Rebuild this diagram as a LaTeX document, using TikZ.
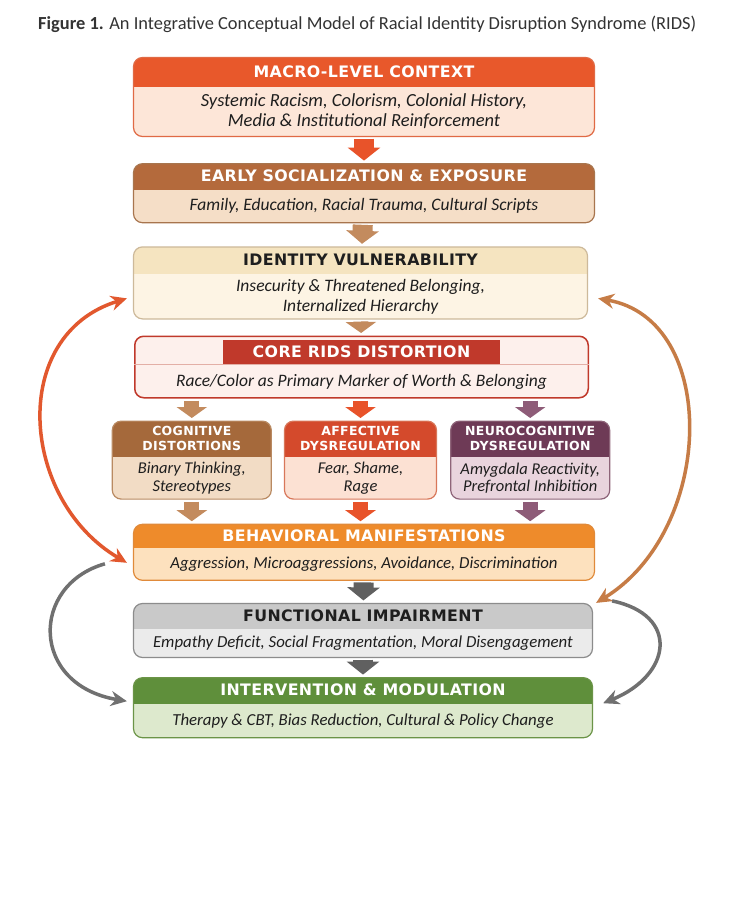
\documentclass[tikz,border=0pt]{standalone}
\usepackage{fontspec}
\setmainfont{Carlito}
\newfontfamily\headfont[LetterSpace=2.5]{DejaVu Sans}
\usepackage{tikz}
\usetikzlibrary{arrows.meta,positioning,calc}

\definecolor{macroHd}{HTML}{E8582B}
\definecolor{macroBd}{HTML}{FDE6D8}
\definecolor{macroLn}{HTML}{E06A45}
\definecolor{earlyHd}{HTML}{B46A3C}
\definecolor{earlyBd}{HTML}{F5DEC7}
\definecolor{earlyLn}{HTML}{A8754E}
\definecolor{identHd}{HTML}{F5E4C0}
\definecolor{identBd}{HTML}{FDF4E4}
\definecolor{identLn}{HTML}{CDB99A}
\definecolor{coreHd}{HTML}{C0392B}
\definecolor{coreBd}{HTML}{FDF0EC}
\definecolor{coreSep}{HTML}{E3AFA6}
\definecolor{cogHd}{HTML}{A5693B}
\definecolor{cogBd}{HTML}{F2DCC5}
\definecolor{cogLn}{HTML}{B98A62}
\definecolor{affHd}{HTML}{D44A2C}
\definecolor{affBd}{HTML}{FCE1D3}
\definecolor{affLn}{HTML}{D8775A}
\definecolor{neuHd}{HTML}{6E3A56}
\definecolor{neuBd}{HTML}{E9D4DD}
\definecolor{neuLn}{HTML}{8E6479}
\definecolor{behHd}{HTML}{EE8B2B}
\definecolor{behBd}{HTML}{FDE1BE}
\definecolor{behLn}{HTML}{E08A3A}
\definecolor{funHd}{HTML}{C9C9C9}
\definecolor{funBd}{HTML}{EBEBEB}
\definecolor{funLn}{HTML}{8C8C8C}
\definecolor{intHd}{HTML}{5F8F3B}
\definecolor{intBd}{HTML}{DDE9CD}
\definecolor{intLn}{HTML}{6B9447}
\definecolor{redArr}{HTML}{E8532A}
\definecolor{tanArr}{HTML}{C38B5E}
\definecolor{mauveArr}{HTML}{8E5C78}
\definecolor{grayArr}{HTML}{606060}
\definecolor{sideRed}{HTML}{E2582E}
\definecolor{sideTan}{HTML}{C67C46}
\definecolor{sideGray}{HTML}{707070}
\definecolor{ink}{HTML}{1E1E1E}

\begin{document}
\begin{tikzpicture}[x=1pt,y=-1pt,
    panel/.style n args={4}{draw=#3,fill=#2,rounded corners=9pt,line width=1.2pt,
      path picture={\fill[#1,sharp corners] (path picture bounding box.north west)
        rectangle ([yshift=-#4]path picture bounding box.north east);}},
    hd/.style={font=\headfont\bfseries\fontsize{15.8}{17}\selectfont,text=white},
    hds/.style={font=\headfont\bfseries\fontsize{12.5}{14.5}\selectfont,text=white,align=center},
    bd/.style={font=\itshape\fontsize{17.5}{20}\selectfont,text=ink,align=center},
    bdl/.style={font=\itshape\fontsize{16.8}{20}\selectfont,text=ink,align=center},
    bds/.style={font=\itshape\fontsize{16.5}{17.5}\selectfont,text=ink,align=center},
    blk/.style={line width=20pt,-{Triangle[width=32pt,length=13pt]},shorten <=1.5pt,shorten >=2.5pt},
    blks/.style={line width=15pt,-{Triangle[width=30pt,length=11pt]},shorten <=2pt,shorten >=2.5pt},
    side/.style={line width=3.5pt,{Stealth[length=16pt,width=15pt]}-{Stealth[length=16pt,width=15pt]}},
    sideone/.style={line width=3.5pt,-{Stealth[length=16pt,width=15pt]}}]

  \fill[white] (0,0) rectangle (752,899);
  \useasboundingbox (0,0) rectangle (752,899);

  % title
  \node[anchor=base west,inner sep=0pt,text=black!80,font=\fontsize{18.4}{20}\selectfont]
    (title) at (38,30) {\textbf{Figure 1.} An Integrative Conceptual Model of Racial Identity Disruption Syndrome (RIDS)};

  % main column
  \node[panel={macroHd}{macroBd}{macroLn}{29pt},minimum width=461pt,minimum height=79pt]
    (macro) at (364,97) {};
  \node[panel={earlyHd}{earlyBd}{earlyLn}{26pt},minimum width=461pt,minimum height=59pt,
    below=26pt of macro] (early) {};
  \node[panel={identHd}{identBd}{identLn}{27pt},minimum width=454pt,minimum height=72pt,
    below=23pt of early,xshift=-3.5pt] (ident) {};
  \node[draw=coreHd,fill=coreBd,rounded corners=9pt,line width=1.5pt,minimum width=453.5pt,
    minimum height=61.5pt,below=16pt of ident,xshift=1pt] (core) {};
  \node[fill=coreHd,minimum width=277pt,minimum height=24pt,inner sep=0pt,hd,
    below=4pt of core.north] (coreTitle) {CORE RIDS DISTORTION};
  \draw[coreSep,line width=0.8pt] (core.west |- coreTitle.south) -- (core.east |- coreTitle.south);

  % three mechanisms
  \node[panel={affHd}{affBd}{affLn}{36pt},minimum width=152pt,minimum height=78pt,
    below=22pt of core,xshift=-1pt] (aff) {};
  \node[panel={cogHd}{cogBd}{cogLn}{36pt},minimum width=159pt,minimum height=78pt,
    left=12pt of aff] (cog) {};
  \node[panel={neuHd}{neuBd}{neuLn}{36pt},minimum width=159pt,minimum height=78pt,
    right=13pt of aff] (neu) {};

  \node[panel={behHd}{behBd}{behLn}{24pt},minimum width=461pt,minimum height=56pt,
    below=24pt of aff,xshift=3.5pt] (behav) {};
  \node[panel={funHd}{funBd}{funLn}{25pt},minimum width=459pt,minimum height=54pt,
    below=22pt of behav,xshift=-1pt] (func) {};
  \node[panel={intHd}{intBd}{intLn}{26pt},minimum width=459pt,minimum height=60pt,
    below=19pt of func] (interv) {};

  % texts
  \node[hd] at ([yshift=-14.5pt]macro.north) {MACRO-LEVEL CONTEXT};
  \node[bd,font=\itshape\fontsize{18.5}{20}\selectfont] at ($(macro.south)!.5!([yshift=-29pt]macro.north)$)
    {Systemic Racism, Colorism, Colonial History,\\Media \& Institutional Reinforcement};
  \node[hd] at ([yshift=-13pt]early.north) {EARLY SOCIALIZATION \& EXPOSURE};
  \node[bd] at ($(early.south)!.5!([yshift=-26pt]early.north)$)
    {Family, Education, Racial Trauma, Cultural Scripts};
  \node[hd,text=ink] at ([yshift=-13.5pt]ident.north) {IDENTITY VULNERABILITY};
  \node[bd] at ($(ident.south)!.5!([yshift=-27pt]ident.north)$)
    {Insecurity \& Threatened Belonging,\\Internalized Hierarchy};
  \node[bd] at ([yshift=17pt]core.south) {Race/Color as Primary Marker of Worth \& Belonging};

  \node[hds] at ([yshift=-18pt]cog.north) {COGNITIVE\\DISTORTIONS};
  \node[bds] at ($(cog.south)!.5!([yshift=-36pt]cog.north)$) {Binary Thinking,\\Stereotypes};
  \node[hds] at ([yshift=-18pt]aff.north) {AFFECTIVE\\DYSREGULATION};
  \node[bds] at ($(aff.south)!.5!([yshift=-36pt]aff.north)$) {Fear, Shame,\\Rage};
  \node[hds] at ([yshift=-18pt]neu.north) {NEUROCOGNITIVE\\DYSREGULATION};
  \node[bds] at ($(neu.south)!.5!([yshift=-36pt]neu.north)$) {Amygdala Reactivity,\\Prefrontal Inhibition};

  \node[hd] at ([yshift=-12pt]behav.north) {BEHAVIORAL MANIFESTATIONS};
  \node[bdl] at ($(behav.south)!.5!([yshift=-24pt]behav.north)$)
    {Aggression, Microaggressions, Avoidance, Discrimination};
  \node[hd,text=ink] at ([yshift=-12.5pt]func.north) {FUNCTIONAL IMPAIRMENT};
  \node[bdl] at ($(func.south)!.5!([yshift=-25pt]func.north)$)
    {Empathy Deficit, Social Fragmentation, Moral Disengagement};
  \node[hd] at ([yshift=-13pt]interv.north) {INTERVENTION \& MODULATION};
  \node[bdl] at ($(interv.south)!.5!([yshift=-26pt]interv.north)$)
    {Therapy \& CBT, Bias Reduction, Cultural \& Policy Change};

  % downward flow
  \draw[blk,redArr] (macro) -- (early);
  \draw[blk,tanArr] (early) -- (ident);
  \draw[blks,tanArr] (ident) -- (core);
  \draw[blks,tanArr] (core.south -| cog.north) -- (cog.north);
  \draw[blks,redArr] (core.south -| aff.north) -- (aff.north);
  \draw[blks,mauveArr] (core.south -| neu.north) -- (neu.north);
  \draw[blks,tanArr] (cog.south) -- (cog.south |- behav.north);
  \draw[blks,redArr] (aff.south) -- (aff.south |- behav.north);
  \draw[blks,mauveArr] (neu.south) -- (neu.south |- behav.north);
  \draw[blk,grayArr] (behav) -- (func);
  \draw[blk,grayArr] (func) -- (interv);

  % feedback loops
  \draw[side,sideRed] ([shift={(-6pt,-15.5pt)}]ident.west)
    .. controls (8,335) and (20,500) .. ([shift={(-6pt,-10.5pt)}]behav.west);
  \draw[side,sideTan] ([shift={(10pt,-15.5pt)}]ident.east)
    .. controls (720,320) and (715,530) .. ([shift={(3pt,0pt)}]func.north east);
  \draw[sideone,sideGray] ([shift={(-28pt,-11.5pt)}]behav.west)
    .. controls (30,585) and (30,685) .. ([shift={(-6pt,6.5pt)}]interv.west);
  \draw[sideone,sideGray] ([shift={(19pt,2pt)}]func.north east)
    .. controls (680,615) and (672,675) .. ([shift={(10pt,4.5pt)}]interv.east);
\end{tikzpicture}
\end{document}
